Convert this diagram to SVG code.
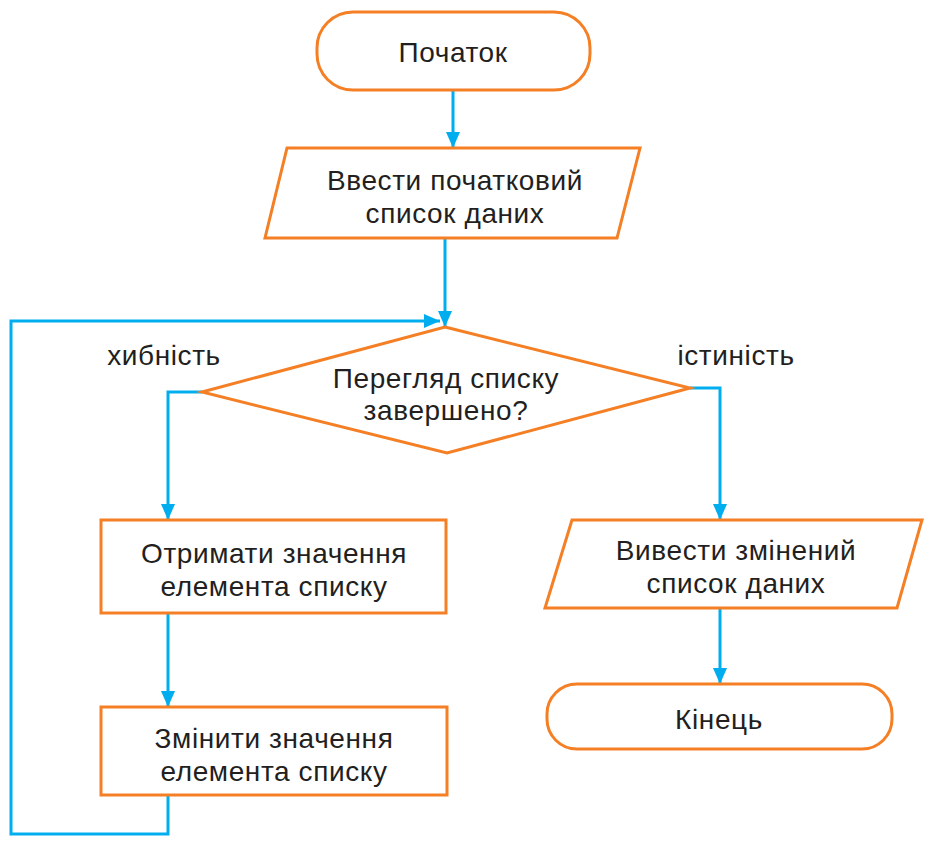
<svg xmlns="http://www.w3.org/2000/svg" width="940" height="847" viewBox="0 0 940 847">
<style>
.shape{fill:#fff;stroke:#F47F24;stroke-width:3}
.conn{fill:none;stroke:#00AEEF;stroke-width:3}
text{font-family:"Liberation Sans",Arial,sans-serif;font-size:28px;letter-spacing:0.6px;fill:#231F20;text-anchor:middle}
</style>
<defs>
<marker id="arr" viewBox="0 0 16 14" refX="16" refY="7" markerWidth="16" markerHeight="14" markerUnits="userSpaceOnUse" orient="auto">
<path d="M0,0 L16,7 L0,14 Z" fill="#00AEEF"/>
</marker>
</defs>
<rect width="940" height="847" fill="#fff"/>
<g id="connectors">
<path class="conn" d="M453,90 V148" marker-end="url(#arr)"/>
<path class="conn" d="M445,238 V327" marker-end="url(#arr)"/>
<path class="conn" d="M202,392 H168 V520" marker-end="url(#arr)"/>
<path class="conn" d="M168,613 V707" marker-end="url(#arr)"/>
<path class="conn" d="M168,795 V834 H11 V321 H440" marker-end="url(#arr)"/>
<path class="conn" d="M690,388 H720 V520" marker-end="url(#arr)"/>
<path class="conn" d="M720,608 V684" marker-end="url(#arr)"/>
</g>
<g id="start">
<rect class="shape" x="317" y="12" width="273" height="78" rx="36"/>
<text x="453" y="62">Початок</text>
</g>
<g id="input">
<polygon class="shape" points="287,148 640,148 617,238 265,238"/>
<text x="455" y="190">Ввести початковий</text>
<text x="455" y="223">список даних</text>
</g>
<g id="decision">
<polygon class="shape" points="445,327 690,388 447,453 202,392"/>
<text x="446" y="388">Перегляд списку</text>
<text x="446" y="420">завершено?</text>
</g>
<g id="label-false"><text x="164" y="365">хибність</text></g>
<g id="label-true"><text x="736" y="365">істиність</text></g>
<g id="get">
<rect class="shape" x="101" y="520" width="345" height="93"/>
<text x="274" y="563">Отримати значення</text>
<text x="274" y="596">елемента списку</text>
</g>
<g id="change">
<rect class="shape" x="101" y="707" width="346" height="88"/>
<text x="274" y="748">Змінити значення</text>
<text x="274" y="781">елемента списку</text>
</g>
<g id="output">
<polygon class="shape" points="572,520 922,520 897,608 545,608"/>
<text x="736" y="560">Вивести змінений</text>
<text x="736" y="593">список даних</text>
</g>
<g id="end">
<rect class="shape" x="547" y="684" width="345" height="65" rx="30"/>
<text x="719" y="729">Кінець</text>
</g>
</svg>
